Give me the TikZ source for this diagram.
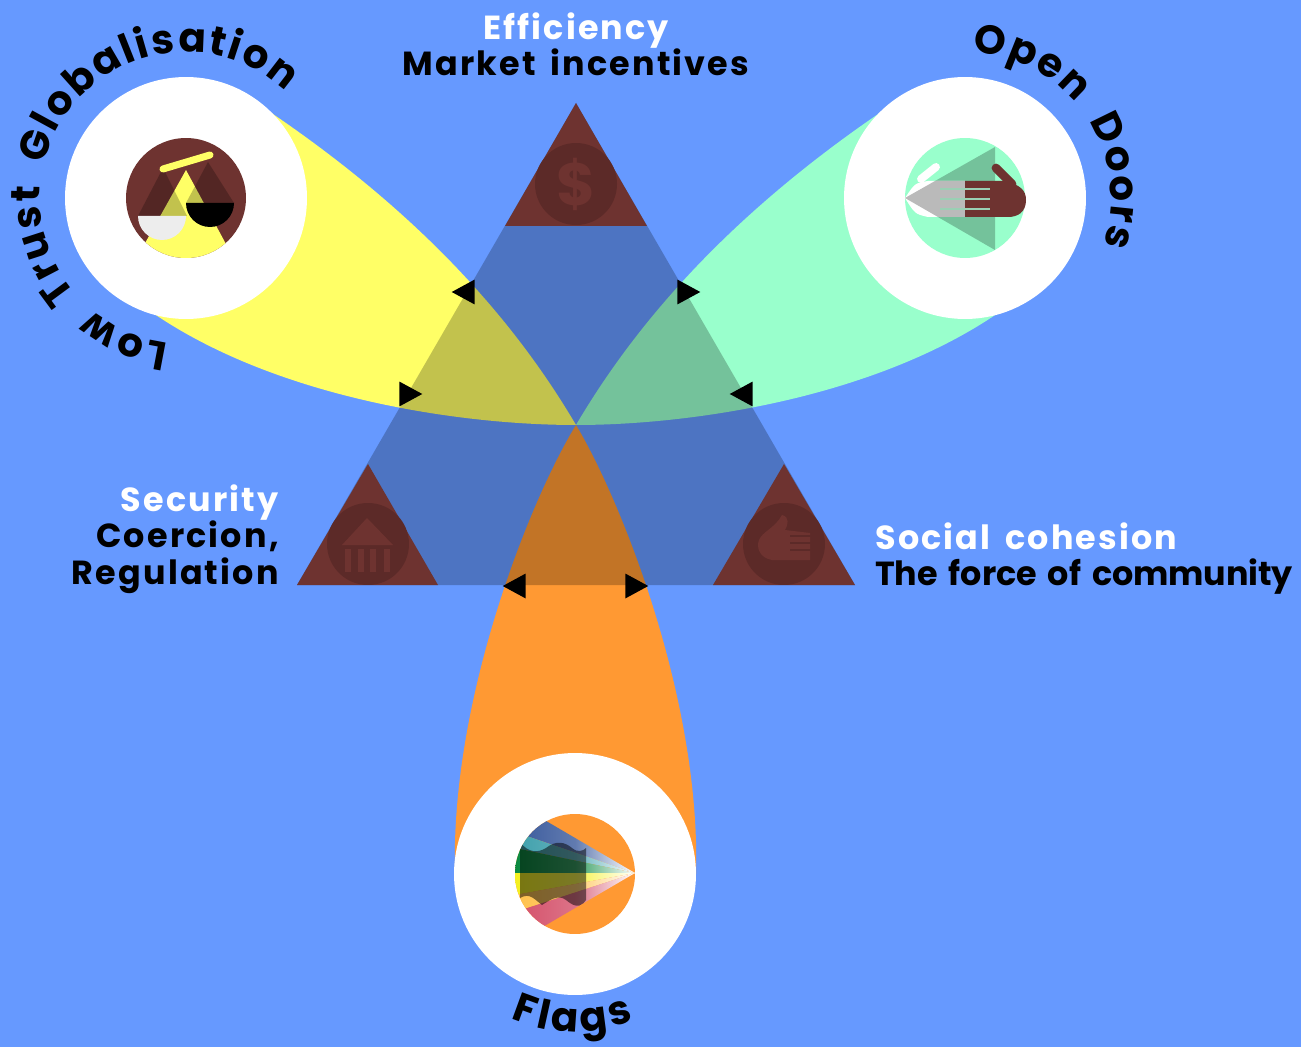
\documentclass[tikz,border=0pt]{standalone}
\usepackage{fontspec}
\setmainfont{Poppins}[LetterSpace=6.5, WordSpace=1.6]
\usetikzlibrary{
    shapes.geometric,
    decorations.text,
}
\definecolor{sky}{HTML}{6699FF}
\definecolor{beamyellow}{HTML}{FFFF66}
\definecolor{beamteal}{HTML}{99FFCC}
\definecolor{beamorange}{HTML}{FF9933}
\definecolor{brick}{HTML}{6E3330}
\definecolor{brickdark}{HTML}{5C2A28}
\definecolor{flagblue}{HTML}{3A5A9C}
\definecolor{flagteal}{HTML}{3FA0AC}
\definecolor{flaggreen}{HTML}{0A8A40}
\definecolor{flagyellow}{HTML}{F4F020}
\definecolor{flagamber}{HTML}{FFC14D}
\definecolor{flagred}{HTML}{D4506A}
\definecolor{fingerline}{HTML}{9AD0B4}
\newcommand{\labelfont}{\fontsize{19}{22}\selectfont\bfseries}
\newcommand{\archfont}{\fontsize{23}{26}\selectfont\bfseries}

\begin{document}
\begin{tikzpicture}[
    x=0.02cm, y=-0.02cm,
    disc/.style={circle, fill=white, inner sep=0pt, minimum size=4.84cm},
    iconbase/.style={circle, inner sep=0pt, minimum size=2.4cm},
    corner/.style={fill=brick},
    badge/.style={circle, fill=brickdark, inner sep=0pt, minimum size=1.64cm},
    tipmark/.style={isosceles triangle, isosceles triangle apex angle=57, isosceles triangle stretches,
        fill=black, inner sep=0pt, minimum height=0.46cm, minimum width=0.5cm},
    lefttip/.style={tipmark, shape border rotate=180, anchor=apex},
    righttip/.style={tipmark, shape border rotate=0, anchor=apex},
    caption/.style={font=\labelfont, inner sep=0pt, anchor=base},
    band/.style={left color=#1, right color=white, middle color=#1!80!white},
    curved/.style={decorate, decoration={text along path, text align=fit to path, text={|\archfont|#1}}},
]

\fill[sky] (0,0) rectangle (1301,1047);
\useasboundingbox (0,0) rectangle (1301,1047);

% beams
\fill[beamyellow] (576,425) .. controls (520,330) and (430,220) .. (267,110) -- (186,198) -- (150,311) .. controls (275,398) and (460,425) .. (576,425) -- cycle;
\fill[beamteal] (576,425) .. controls (632,330) and (722,220) .. (884,110) -- (965,198) -- (1001,311) .. controls (876,398) and (691,425) .. (576,425) -- cycle;
\fill[beamorange] (576,425) .. controls (530,500) and (450,700) .. (455,874) -- (696,874) .. controls (701,700) and (621,500) .. (576,425) -- cycle;

% big triangle
\fill[black, opacity=0.24] (576,103) -- (855,585) -- (297,585) -- cycle;
\fill[corner] (576,103) -- (647,226) -- (505,226) -- cycle;
\fill[corner] (368,464) -- (438,585) -- (297,585) -- cycle;
\fill[corner] (784,464) -- (855,585) -- (713,585) -- cycle;

\node[badge] (money) at (576,184) {};
\node[badge] (state) at (368,544) {};
\node[badge] (people) at (784,544) {};

\node[text=brick, font=\fontsize{34}{34}\selectfont\bfseries, inner sep=0pt] (dollar) at (money) {\$};

\fill[brick] (367,518) -- (393,545) -- (342,545) -- cycle;
\foreach \x in {348,361,373,387}
    \fill[brick] (\x-3,549) rectangle (\x+3,572);

\fill[brick] (782,515) .. controls (790,517) and (788,525) .. (785,530) -- (810,533) -- (810,560) -- (772,560) .. controls (760,558) and (756,548) .. (759,540) .. controls (762,532) and (775,528) .. (782,515) -- cycle;
\foreach \y in {536,543,550}
    \draw[brickdark, line width=0.6pt] (790,\y) -- (811,\y);

% white discs
\node[disc] (trustdisc) at (186,198) {};
\node[disc] (doorsdisc) at (965,198) {};
\node[disc] (flagsdisc) at (575,874) {};

% scales icon
\node[iconbase, fill=brick] (scales) at (186,198) {};
\begin{scope}
    \clip (186,198) circle (60);
    \fill[beamyellow] (186,170) -- (240,270) -- (130,270) -- cycle;
    \fill[black, opacity=0.24] (163,168) -- (187,216) -- (138,216) -- cycle;
    \fill[black, opacity=0.24] (208,162) -- (234,203) -- (186,203) -- cycle;
\end{scope}
\fill[black!7] (138,216) -- (186,216) arc (0:180:24) -- cycle;
\fill[black] (186,203) -- (234,203) arc (0:180:24) -- cycle;
\draw[beamyellow, line width=4pt, line cap=round] (163,169) -- (210,155);

% hand icon
\node[iconbase, fill=beamteal] (hand) at (965,198) {};
\fill[black, opacity=0.24] (905,198) -- (995,147) -- (995,250) -- cycle;
\fill[white] (965,181) -- (928,181) .. controls (915,183) .. (905,198) .. controls (915,214) .. (928,217) -- (965,217) -- cycle;
\draw[white, line width=4.5pt, line cap=round] (936,167) -- (921,179);
\fill[black!27] (905,198) -- (935,181) -- (965,181) -- (965,217) -- (938,217) -- cycle;
\draw[brick, line width=5pt, line cap=round] (996,168) -- (1012,184);
\fill[brick] (965,181) -- (1005,181) .. controls (1020,185) and (1026,190) .. (1026,200) .. controls (1026,212) and (1018,217) .. (1008,217) -- (965,217) -- cycle;
\foreach \y in {189,199,209}
    \draw[fingerline, line width=1.3pt] (940,\y) -- (990,\y);

% flag icon
\node[iconbase, fill=beamorange] (flagicon) at (575,874) {};
\begin{scope}
    \clip (575,874) circle (60);
    \clip (635,873) -- (500,794) -- (500,952) -- cycle;
    \shade[band=flagblue] (635,873) -- (515,795) -- (515,832) -- cycle;
    \shade[band=flagteal] (635,873) -- (515,832) -- (515,848) -- cycle;
    \shade[band=flaggreen] (635,873) -- (515,848) -- (515,873) -- cycle;
    \shade[band=flagyellow] (635,873) -- (515,873) -- (515,895) -- cycle;
    \shade[band=flagamber] (635,873) -- (515,895) -- (515,912) -- cycle;
    \shade[band=flagred] (635,873) -- (515,912) -- (515,955) -- cycle;
    \fill[black, opacity=0.5] (520,842) .. controls (528,853) and (538,853) .. (546,848) .. controls (556,840) and (565,842) .. (572,848) .. controls (578,853) and (583,851) .. (586,848) -- (586,900) .. controls (580,910) and (572,905) .. (566,900) .. controls (558,894) and (550,900) .. (542,905) .. controls (535,900) and (530,892) .. (520,898) -- cycle;
\end{scope}

% tips on the beams
\node[lefttip] (yellowtop) at (451,292) {};
\node[righttip] (yellowlow) at (423,394) {};
\node[righttip] (tealtop) at (701,292) {};
\node[lefttip] (teallow) at (729,394) {};
\node[lefttip] (orangeleft) at (502,586) {};
\node[righttip] (orangeright) at (649,586) {};

% labels
\node[caption, text=white] (efficiency) at (576,40) {Efficiency};
\node[caption, text=black] (market) at (576,76) {Market incentives};
\node[caption, text=white, anchor=base east] (security) at (279,511) {Security};
\node[caption, text=black, anchor=base east] (coercion) at (279,547) {Coercion,};
\node[caption, text=black, anchor=base east] (regulation) at (279,584) {Regulation};
\node[caption, text=white, anchor=base west] (cohesion) at (875,549) {Social cohesion};
\node[caption, text=black, anchor=base west, font=\labelfont\addfontfeature{LetterSpace=-0.4}] (community) at (875,585) {The force of community};

\path[curved={Low Trust Globalisation}] (186,198) ++(97:146) arc (97:313:146);
\path[curved={Open Doors}] (965,198) ++(273:146) arc (273:379:146);
\path[curved={Flags}] (575,874) ++(114:158) arc (114:68:158);

\end{tikzpicture}
\end{document}
